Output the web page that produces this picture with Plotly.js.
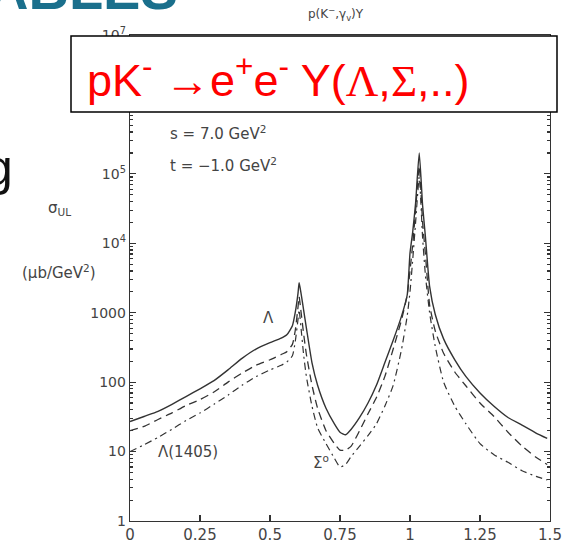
<!DOCTYPE html>
<html>
<head>
<meta charset="utf-8">
<script src="https://cdn.plot.ly/plotly-3.0.1.min.js"></script>
<style>
html,body{margin:0;padding:0;background:#fff;overflow:hidden;}
#chart{width:562px;height:544px;}
</style>
</head>
<body>
<div id="chart"></div>
<script>
// shared abscissa
const xVals = [0, 0.05, 0.1, 0.15, 0.2, 0.25, 0.3, 0.35, 0.4, 0.45, 0.5, 0.54, 0.56, 0.58, 0.59, 0.60, 0.604, 0.61, 0.62, 0.63, 0.65, 0.67, 0.70, 0.73, 0.75, 0.77, 0.79, 0.82, 0.85, 0.88, 0.91, 0.94, 0.97, 0.99, 1.0, 1.01, 1.02, 1.033, 1.045, 1.055, 1.07, 1.09, 1.12, 1.16, 1.2, 1.25, 1.3, 1.35, 1.4, 1.45, 1.49];

const solidVals = [27, 32, 38, 48, 62, 80, 105, 150, 220, 300, 370, 430, 480, 650, 1000, 1900, 2700, 2000, 1100, 600, 190, 90, 42, 25, 19, 17.5, 21, 31, 50, 90, 190, 400, 900, 1800, 7200, 15000, 38000, 200000, 35000, 12500, 2400, 950, 420, 210, 120, 70, 45, 31, 24, 18.5, 15.5];

const dashedVals = [20, 23, 29, 36, 46, 56, 72, 100, 135, 175, 210, 250, 275, 350, 550, 1200, 1700, 1100, 500, 250, 90, 42, 20, 13, 10.5, 10.5, 12, 20, 35, 60, 120, 300, 800, 1800, 4000, 10000, 30000, 130000, 20000, 7000, 1300, 550, 260, 140, 88, 50, 32, 19, 12, 8.3, 6.5];

const dashDotVals = [10, 12.5, 16, 21, 28, 36, 48, 65, 90, 120, 150, 175, 195, 240, 380, 800, 1100, 650, 250, 120, 45, 22, 13, 8, 6, 6.5, 8.5, 12, 17, 25, 45, 90, 300, 900, 2000, 6000, 20000, 90000, 12000, 3500, 1000, 330, 100, 45, 25, 13, 9, 7, 5.3, 4.4, 3.9];

const yTickVals = [1, 10, 100, 1000, 1e4, 1e5, 1e6, 1e7];
const yTickText = ['1', '10', '100', '1000', '10<sup>4</sup>', '10<sup>5</sup>', '', '10<sup>7</sup>'];
const xTickVals = [0, 0.25, 0.5, 0.75, 1, 1.25, 1.5];
const xTickText = ['0', '0.25', '0.5', '0.75', '1', '1.25', '1.5'];

const minorVals = [];
for (let d = 0; d < 7; d++) for (let m = 2; m <= 9; m++) minorVals.push(m * Math.pow(10, d));

const ink = '#333';
const traces = [
  {x: xVals, y: solidVals, mode: 'lines', line: {color: ink, width: 1.4, shape: 'spline', smoothing: 0.5}, hoverinfo: 'skip'},
  {x: xVals, y: dashedVals, mode: 'lines', line: {color: ink, width: 1.3, dash: '8px,5px', shape: 'spline', smoothing: 0.5}, hoverinfo: 'skip'},
  {x: xVals, y: dashDotVals, mode: 'lines', line: {color: ink, width: 1.2, dash: '7px,4px,2px,4px', shape: 'spline', smoothing: 0.5}, hoverinfo: 'skip'}
];

const W = 420, H = 486, L = 130, T = 35;
const px = v => (v - L) / W;           // pixel x -> paper
const py = v => (T + H - v) / H;       // pixel y -> paper

const scan = 'DejaVu Sans, Verdana, sans-serif';
const txt = {family: scan, size: 15, color: '#444'};
const serif = 'font-family:Liberation Serif, Times New Roman, serif';

const layout = {
  width: 562, height: 544,
  margin: {l: L, r: 562 - L - W, t: T, b: 544 - T - H, pad: 0},
  paper_bgcolor: '#fff', plot_bgcolor: '#fff',
  showlegend: false,
  font: {family: scan, color: '#444'},
  xaxis: {
    range: [0, 1.5], tickmode: 'array', tickvals: xTickVals, ticktext: xTickText,
    ticks: 'inside', ticklen: 6, tickwidth: 1.2, tickcolor: ink,
    showline: true, linecolor: ink, linewidth: 1.3, mirror: true,
    showgrid: false, zeroline: false, tickfont: {family: scan, size: 15, color: '#444'}
  },
  yaxis: {
    type: 'log', range: [0, 7], tickmode: 'array', tickvals: yTickVals, ticktext: yTickText,
    ticks: 'inside', ticklen: 6, tickwidth: 1.2, tickcolor: ink,
    minor: {tickvals: minorVals, ticks: 'inside', ticklen: 3, tickcolor: ink, showgrid: false},
    showline: true, linecolor: ink, linewidth: 1.3, mirror: 'ticks',
    showgrid: false, zeroline: false, tickfont: {family: scan, size: 14, color: '#444'}
  },
  shapes: [
    {type: 'rect', xref: 'paper', yref: 'paper', x0: px(71), x1: px(557), y0: py(112), y1: py(36),
     line: {color: '#000', width: 1.5}, fillcolor: '#fff', layer: 'above'}
  ],
  annotations: [
    {xref: 'paper', yref: 'paper', x: px(180), y: py(23), xanchor: 'right', yanchor: 'bottom', showarrow: false,
     text: '<b>ABLES</b>', font: {family: 'Liberation Sans, Arial, sans-serif', size: 56, color: '#1a6f8c'}},
    {xref: 'paper', yref: 'paper', x: px(15), y: py(168), xanchor: 'right', yanchor: 'middle', showarrow: false,
     text: 'g', font: {family: 'Liberation Sans, Arial, sans-serif', size: 50, color: '#111'}},
    {xref: 'paper', yref: 'paper', x: px(336), y: py(14), xanchor: 'center', yanchor: 'middle', showarrow: false,
     text: 'p(K<sup>−</sup>,γ<sub>v</sub>)Y', font: {family: scan, size: 12, color: '#444'}},
    {xref: 'paper', yref: 'paper', x: px(85), y: py(77), xanchor: 'left', yanchor: 'middle', showarrow: false,
     text: 'pK<sup>-</sup> →e<sup>+</sup>e<sup>-</sup> Y(<span style="' + serif + '">Λ</span>,<span style="' + serif + '">Σ</span>,..)',
     font: {family: 'Liberation Sans, Arial, sans-serif', size: 45, color: '#ff0000'}},
    {xref: 'paper', yref: 'paper', x: px(168), y: py(133), xanchor: 'left', yanchor: 'middle', showarrow: false,
     text: 's = 7.0 GeV<sup>2</sup>', font: txt},
    {xref: 'paper', yref: 'paper', x: px(168), y: py(165), xanchor: 'left', yanchor: 'middle', showarrow: false,
     text: 't = −1.0 GeV<sup>2</sup>', font: txt},
    {xref: 'paper', yref: 'paper', x: px(46), y: py(208), xanchor: 'left', yanchor: 'middle', showarrow: false,
     text: 'σ<sub>UL</sub>', font: txt},
    {xref: 'paper', yref: 'paper', x: px(20), y: py(272), xanchor: 'left', yanchor: 'middle', showarrow: false,
     text: '(μb/GeV<sup>2</sup>)', font: txt},
    {xref: 'paper', yref: 'paper', x: px(268), y: py(318), xanchor: 'center', yanchor: 'middle', showarrow: false,
     text: 'Λ', font: txt},
    {xref: 'paper', yref: 'paper', x: px(156), y: py(452), xanchor: 'left', yanchor: 'middle', showarrow: false,
     text: 'Λ(1405)', font: txt},
    {xref: 'paper', yref: 'paper', x: px(321), y: py(462), xanchor: 'center', yanchor: 'middle', showarrow: false,
     text: 'Σ<sup>o</sup>', font: txt}
  ]
};

Plotly.newPlot('chart', traces, layout, {staticPlot: true, displayModeBar: false});
</script>
</body>
</html>
